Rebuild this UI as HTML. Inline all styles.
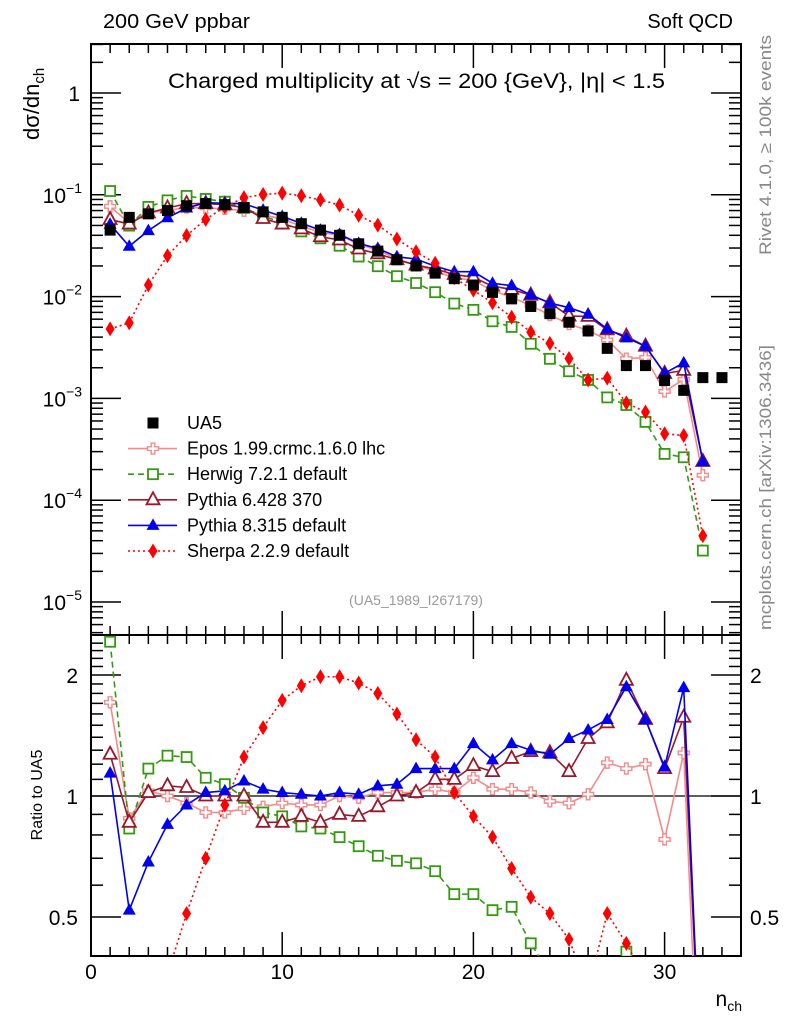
<!DOCTYPE html>
<html><head><meta charset="utf-8"><style>
html,body{margin:0;padding:0;background:#fff;width:786px;height:1024px;overflow:hidden;}
svg{display:block;font-family:"Liberation Sans",sans-serif;}
</style></head><body>
<svg id="chart" width="786" height="1024" viewBox="0 0 786 1024">
<defs>
<clipPath id="clipTop"><rect x="91" y="44" width="650" height="591"/></clipPath>
<clipPath id="clipBot"><rect x="91" y="635" width="650" height="321"/></clipPath>
</defs>
<g id="axes"></g>
<g id="marks"></g>
<text x="103" y="28" font-size="20" textLength="147" lengthAdjust="spacingAndGlyphs">200 GeV ppbar</text>
<text x="733" y="28" font-size="20" text-anchor="end">Soft QCD</text>
<text x="168" y="88" font-size="21" textLength="497" lengthAdjust="spacingAndGlyphs">Charged multiplicity at √s = 200 {GeV}, |η| &lt; 1.5</text>
<text x="416" y="605" font-size="14" fill="#999" text-anchor="middle">(UA5_1989_I267179)</text>
<text transform="translate(39,140) rotate(-90)" font-size="22">dσ/dn<tspan font-size="15" dy="5">ch</tspan></text>
<text transform="translate(42,795) rotate(-90)" font-size="16" text-anchor="middle">Ratio to UA5</text>
<text x="742" y="1006" font-size="21" text-anchor="end">n<tspan font-size="14" dy="5">ch</tspan></text>
<text transform="translate(771,255) rotate(-90)" font-size="17" fill="#888" textLength="220" lengthAdjust="spacingAndGlyphs">Rivet 4.1.0, ≥ 100k events</text>
<text transform="translate(771,630) rotate(-90)" font-size="17" fill="#888" textLength="285" lengthAdjust="spacingAndGlyphs">mcplots.cern.ch [arXiv:1306.3436]</text>
<g id="legend"></g>
</svg>
<script>
const nValues=[1,2,3,4,5,6,7,8,9,10,11,12,13,14,15,16,17,18,19,20,21,22,23,24,25,26,27,28,29,30,31,32,33];
const ua5=[0.045,0.06,0.065,0.07,0.078,0.082,0.08,0.075,0.068,0.06,0.052,0.045,0.04,0.033,0.028,0.023,0.02,0.017,0.015,0.013,0.011,0.0095,0.008,0.0068,0.0056,0.0046,0.0031,0.0021,0.0021,0.0015,0.0012,0.0016,0.0016];
const eposRatio=[1.71,0.88,1.03,1.0,0.96,0.91,0.91,0.93,0.94,0.96,0.95,0.95,1.0,0.99,1.02,1.02,1.02,1.04,1.02,1.11,1.04,1.04,1.02,0.97,0.96,1.01,1.21,1.17,1.2,0.78,1.28,0.11];
const herwigRatio=[2.42,0.83,1.17,1.26,1.25,1.11,1.07,0.99,0.91,0.89,0.84,0.83,0.79,0.75,0.71,0.69,0.68,0.65,0.57,0.57,0.52,0.53,0.43,0.36,0.33,0.33,0.33,0.41,0.28,0.19,0.22,0.02];
const py6Ratio=[1.27,0.86,1.02,1.06,1.05,1.0,1.0,1.0,0.86,0.86,0.89,0.86,0.9,0.89,0.94,1.0,1.02,1.1,1.1,1.19,1.15,1.24,1.29,1.28,1.15,1.39,1.52,1.94,1.55,1.17,1.57,0.15];
const py8Ratio=[1.14,0.52,0.685,0.85,0.95,1.02,1.03,1.09,1.04,1.02,1.01,1.0,1.02,1.01,1.06,1.07,1.17,1.17,1.17,1.35,1.23,1.35,1.3,1.27,1.39,1.46,1.55,1.87,1.55,1.18,1.86,0.15];
const sherpaRatio=[0.107,0.092,0.2,0.36,0.51,0.7,0.95,1.25,1.48,1.73,1.88,1.98,1.98,1.91,1.8,1.6,1.38,1.25,1.02,0.89,0.79,0.66,0.56,0.51,0.44,0.33,0.51,0.43,0.35,0.3,0.36,0.028];
const legendLabels=["UA5","Epos 1.99.crmc.1.6.0 lhc","Herwig 7.2.1 default","Pythia 6.428 370","Pythia 8.315 default","Sherpa 2.2.9 default"];
const xTicks=[0,10,20,30];
const yTickExp=[0,-1,-2,-3,-4,-5];
const ratioTicks=[2,1,0.5];

const NS="http://www.w3.org/2000/svg";
const X=v=>91+19.12*v;
const Y=v=>93-101.8*Math.log10(v);
const R=v=>796-121*Math.log2(v);
function mk(tag,attrs,parent){const e=document.createElementNS(NS,tag);for(const k in attrs)e.setAttribute(k,attrs[k]);parent.appendChild(e);return e;}
const axes=document.getElementById('axes'),marks=document.getElementById('marks'),legend=document.getElementById('legend');

let f1=mk('rect',{x:91,y:44,width:650,height:591,fill:'none',stroke:'#000','stroke-width':2},axes);


let f2=mk('rect',{x:91,y:635,width:650,height:321,fill:'none',stroke:'#000','stroke-width':2},axes);


for(let i=1;i<34;i++){
  const len=(i%10===0)?24:9;const x=X(i);
  for(const [y0,d] of [[44,1],[635,-1],[635,1],[956,-1]]){
    let t=mk('line',{x1:x,x2:x,y1:y0,y2:y0+d*len,stroke:'#000','stroke-width':1.5},axes);
    
    
  }
}
xTicks.forEach(v=>{
  let t=mk('text',{x:X(v),y:979,'font-size':21,'text-anchor':'middle'},axes);t.textContent=v;
  
  
});
for(let e=-6;e<=0;e++){for(let m=1;m<10;m++){
  const v=m*Math.pow(10,e);const y=Y(v);if(y<44||y>635)continue;
  const len=m===1?30:12;
  for(const [x0,d] of [[91,1],[741,-1]]){
    let t=mk('line',{x1:x0,x2:x0+d*len,y1:y,y2:y,stroke:'#000','stroke-width':1.5},axes);
    
    
  }
}}
yTickExp.forEach(e=>{
  let t=mk('text',{x:e===0?80:82,y:Y(Math.pow(10,e))+8,'font-size':21,'text-anchor':'end'},axes);
  if(e===0)t.textContent='1';else{t.textContent='10';let s=mk('tspan',{dy:-10,'font-size':14},t);s.textContent=String(e).replace('-','−');}
  
  
});
for(let v=0.4;v<2.5;v+=0.1){
  const y=R(v);if(y<636||y>955)continue;
  const maj=Math.abs(v-1)<1e-6||Math.abs(v-2)<1e-6||Math.abs(v-0.5)<1e-6;
  const len=maj?30:12;
  for(const [x0,d] of [[91,1],[741,-1]]){
    let t=mk('line',{x1:x0,x2:x0+d*len,y1:y,y2:y,stroke:'#000','stroke-width':1.5},axes);
    
    
  }
}
ratioTicks.forEach(v=>{
  for(const [x,a] of [[78,'end'],[750,'start']]){
    let t=mk('text',{x:x,y:R(v)+8,'font-size':21,'text-anchor':a},axes);t.textContent=v;
    
    
  }
});
let ref=mk('line',{x1:91,x2:741,y1:R(1),y2:R(1),stroke:'#000','stroke-width':1.2},axes);



function marker(type,color,x,y,parent){
  let e;
  if(type==='square')e=mk('rect',{x:x-5.5,y:y-5.5,width:11,height:11,fill:'#000'},parent);
  else if(type==='osquare')e=mk('rect',{x:x-5,y:y-5,width:10,height:10,fill:'#fff',stroke:color,'stroke-width':1.8},parent);
  else if(type==='cross')e=mk('path',{d:`M${x-1.8},${y-5.5}h3.6v3.7h3.7v3.6h-3.7v3.7h-3.6v-3.7h-3.7v-3.6h3.7z`,fill:'#fff',stroke:color,'stroke-width':1.4},parent);
  else if(type==='otri')e=mk('path',{d:`M${x},${y-7.5}L${x+6.5},${y+4.5}L${x-6.5},${y+4.5}Z`,fill:'#fff',stroke:color,'stroke-width':1.8},parent);
  else if(type==='tri')e=mk('path',{d:`M${x},${y-7}L${x+6.5},${y+4.5}L${x-6.5},${y+4.5}Z`,fill:color},parent);
  else if(type==='dia')e=mk('path',{d:`M${x},${y-7.5}L${x+4.5},${y}L${x},${y+7.5}L${x-4.5},${y}Z`,fill:color},parent);
  return e;
}
const series=[
 {name:'epos',ratio:eposRatio,color:'#f58a8a',dash:'',marker:'cross'},
 {name:'herwig',ratio:herwigRatio,color:'#339911',dash:'6,4',marker:'osquare'},
 {name:'pythia6',ratio:py6Ratio,color:'#99172a',dash:'',marker:'otri'},
 {name:'pythia8',ratio:py8Ratio,color:'#0000ee',dash:'',marker:'tri'},
 {name:'sherpa',ratio:sherpaRatio,color:'#ff0000',dash:'2,3',marker:'dia'}
];
const gTop=mk('g',{'clip-path':'url(#clipTop)'},marks);
const gBot=mk('g',{'clip-path':'url(#clipBot)'},marks);
series.forEach(s=>{
  const vals=s.ratio.map((r,i)=>r*ua5[i]);
  const pTop=vals.map((v,i)=>X(nValues[i])+','+Y(v)).join(' ');
  const pBot=s.ratio.map((r,i)=>X(nValues[i])+','+R(r)).join(' ');
  let l1=mk('polyline',{points:pTop,fill:'none',stroke:s.color,'stroke-width':1.6,'stroke-dasharray':s.dash},gTop);
  
  
  let l2=mk('polyline',{points:pBot,fill:'none',stroke:s.color,'stroke-width':1.6,'stroke-dasharray':s.dash},gBot);
  
  
  vals.forEach((v,i)=>{
    let m=marker(s.marker,s.color,X(nValues[i]),Y(v),gTop);
    
    
    let m2=marker(s.marker,s.color,X(nValues[i]),R(s.ratio[i]),gBot);
    
    
  });
});
ua5.forEach((v,i)=>{
  let m=marker('square','#000',X(nValues[i]),Y(v),gTop);
  
  
});
const legendStyles=[{m:'square',c:'#000',d:null},...series.map(s=>({m:s.marker,c:s.color,d:s.dash}))];
legendLabels.forEach((lab,i)=>{
  const y=423+25.6*i;
  const g=mk('g',{},legend);
  
  
  const st=legendStyles[i];
  if(st.d!==null)mk('line',{x1:128,x2:177,y1:y,y2:y,stroke:st.c,'stroke-width':1.6,'stroke-dasharray':st.d},g);
  marker(st.m,st.c,153,y,g);
  const t=mk('text',{x:187,y:y+6,'font-size':18},g);t.textContent=lab;
});
</script>
</body></html>
